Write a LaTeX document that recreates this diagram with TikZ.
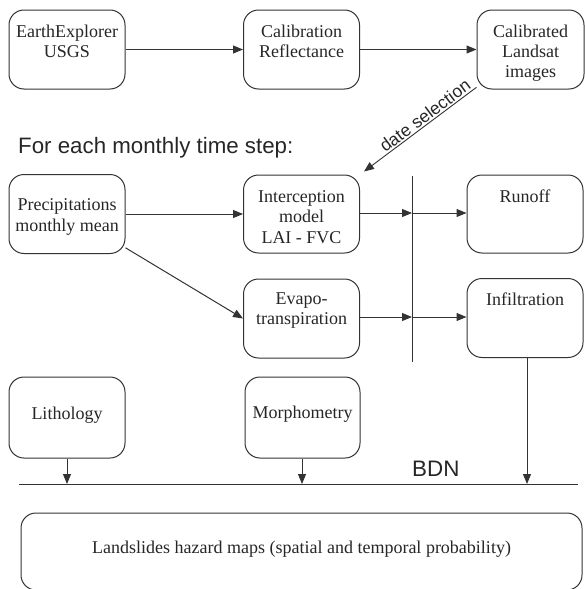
\documentclass[tikz,border=0pt]{standalone}
\usepackage{fontspec}
\setmainfont{Liberation Serif}
\newfontfamily\arialf{Liberation Sans}
\usetikzlibrary{arrows.meta}
\definecolor{ln}{HTML}{333333}
\tikzset{
  box/.style={draw=ln, line width=1pt, rounded corners=15pt, minimum width=116pt, minimum height=79pt, inner sep=0pt},
  txt/.style={anchor=base, inner sep=0pt, font=\fontsize{18}{20}\selectfont, text=black!85},
  arr/.style={draw=ln, line width=1pt, -{Triangle[length=10pt,width=8pt]}},
  plain/.style={draw=ln, line width=1pt},
}
\begin{document}
\begin{tikzpicture}[x=1pt,y=-1pt]
\useasboundingbox (0,0) rectangle (585,589);
% row 1
\node[box] (ee) at (67,49.5) {};
\node[txt] (eet1) at (67,37) {EarthExplorer};
\node[txt] (eet2) at (67,57) {USGS};
\node[box] (cr) at (301.5,49.5) {};
\node[txt] (crt1) at (301.5,37) {Calibration};
\node[txt] (crt2) at (301.5,57) {Reflectance};
\node[box, minimum width=107pt] (cl) at (530.5,49.5) {};
\node[txt] (clt1) at (530.5,37) {Calibrated};
\node[txt] (clt2) at (530.5,57) {Landsat};
\node[txt] (clt3) at (530.5,77) {images};
\draw[arr] (ee) -- (cr);
\draw[arr] (cr) -- (cl);
% title
\node[anchor=base west, inner sep=0pt, font=\arialf\fontsize{22.3}{24}\selectfont, text=black!85] (title) at (18,153) {For each monthly time step:};
% row 2
\node[box] (pr) at (67,214) {};
\node[txt] (prt1) at (67,210) {Precipitations};
\node[txt] (prt2) at (67,231) {monthly mean};
\node[box, minimum height=78pt] (ic) at (301.5,214) {};
\node[txt] (ict1) at (301.5,202) {Interception};
\node[txt] (ict2) at (301.5,222) {model};
\node[txt] (ict3) at (301.5,243) {LAI - FVC};
\node[box, minimum height=78pt] (ro) at (525,214) {};
\node[txt] (rot1) at (525,202) {Runoff};
% row 3
\node[box] (ev) at (301.5,318.5) {};
\node[txt] (evt1) at (301.5,304) {Evapo-};
\node[txt] (evt2) at (301.5,324) {transpiration};
\node[box] (in) at (525,318) {};
\node[txt] (int1) at (525,305) {Infiltration};
% vertical split line
\coordinate (vt) at (412,176);
\coordinate (vb) at (412,362);
\draw[plain] (vt) -- (vb);
\coordinate (v1) at (412,213);
\coordinate (v2) at (412,317);
\draw[arr] (ic.east |- v1) -- (v1);
\draw[arr] (v1) -- (ro.west |- v1);
\draw[arr] (ev.east |- v2) -- (v2);
\draw[arr] (v2) -- (in.west |- v2);
\draw[arr] (pr) -- (ic);
\draw[arr] (pr.-30) -- (ev.west);
% date selection
\draw[arr, line width=0.9pt, shorten >=5pt] (cl.-145) -- node[pos=0.4, sloped, above, inner sep=1.5pt, font=\arialf\fontsize{17.5}{19}\selectfont, text=black!85] (ds) {date selection} (ic.north east);
% row 4
\node[box, minimum height=81pt] (li) at (67,417.5) {};
\node[txt] (lit1) at (67,419) {Lithology};
\node[box, minimum width=115pt, minimum height=81pt] (mo) at (302.5,417.5) {};
\node[txt] (mot1) at (302.5,418) {Morphometry};
% BDN line
\coordinate (bl) at (19,484);
\coordinate (br) at (578,484);
\draw[plain] (bl) -- (br);
\node[anchor=base west, inner sep=0pt, font=\arialf\fontsize{22.4}{24}\selectfont, text=black!85] (bdn) at (412,476) {BDN};
\coordinate (a1) at (67,484);
\coordinate (a2) at (302,484);
\coordinate (a3) at (527,484);
\draw[arr] (li.south -| a1) -- (a1);
\draw[arr] (mo.south -| a2) -- (a2);
\draw[arr] (in.south -| a3) -- (a3);
% bottom
\node[box, minimum width=561pt, minimum height=77pt] (ls) at (301.5,551.5) {};
\node[txt] (lst) at (301.5,553) {Landslides hazard maps (spatial and temporal probability)};
\end{tikzpicture}
\end{document}
